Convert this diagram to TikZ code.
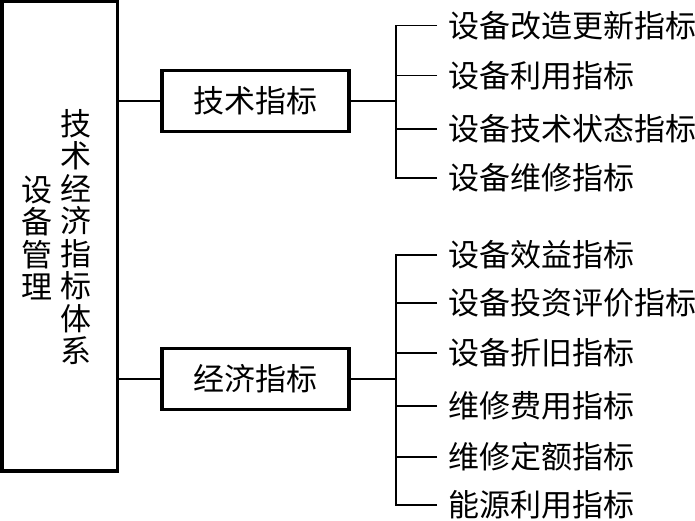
\documentclass[tikz,border=0pt]{standalone}
\usepackage{fontspec}
\setmainfont{Noto Sans CJK SC}
\usetikzlibrary{positioning}

\begin{document}
\begin{tikzpicture}[x=1pt,y=-1pt,
  box/.style={draw,line width=3.2pt,inner sep=0pt,font=\fontsize{31}{31}\selectfont},
  leaf/.style={anchor=west,inner xsep=11pt,inner ysep=0pt,font=\fontsize{31}{31}\selectfont},
  vtext/.style={align=center,inner sep=0pt,font=\fontsize{31}{32.5}\selectfont},
  link/.style={line width=1.6pt}]
\useasboundingbox (0,0) rectangle (695,521);
% root box with its two columns
\node[box,minimum width=115.5pt,minimum height=469.3pt] (root) at (59.7,236.4) {};
\node[vtext] (sbgl) at (37,238) {设\\备\\管\\理};
\node[vtext] (jjtx) at (76,237) {技\\术\\经\\济\\指\\标\\体\\系};
% second level
\node[box,minimum width=187pt,minimum height=61pt] (jszb) at (255.5,101) {技术指标};
\node[box,minimum width=187pt,minimum height=61pt] (jjzb) at (255.5,379) {经济指标};
\draw[link] (root.east |- jszb.west) -- (jszb.west);
\draw[link] (root.east |- jjzb.west) -- (jjzb.west);
% brackets
\coordinate (tk) at (396,101);
\coordinate (jj) at (396,379);
\draw[link] (jszb) -- (tk);
\draw[link] (jjzb) -- (jj);
\foreach \y/\name/\txt in {25.7/t1/设备改造更新指标, 75.7/t2/设备利用指标,
    129/t3/设备技术状态指标, 178/t4/设备维修指标}
  {\node[leaf] (\name) at (437,\y) {\txt};
   \draw[link] (\name.west) -| (tk);}
\foreach \y/\name/\txt in {255/e1/设备效益指标, 303/e2/设备投资评价指标,
    353/e3/设备折旧指标, 406/e4/维修费用指标, 457/e5/维修定额指标, 505/e6/能源利用指标}
  {\node[leaf] (\name) at (437,\y) {\txt};
   \draw[link] (\name.west) -| (jj);}
\end{tikzpicture}
\end{document}
